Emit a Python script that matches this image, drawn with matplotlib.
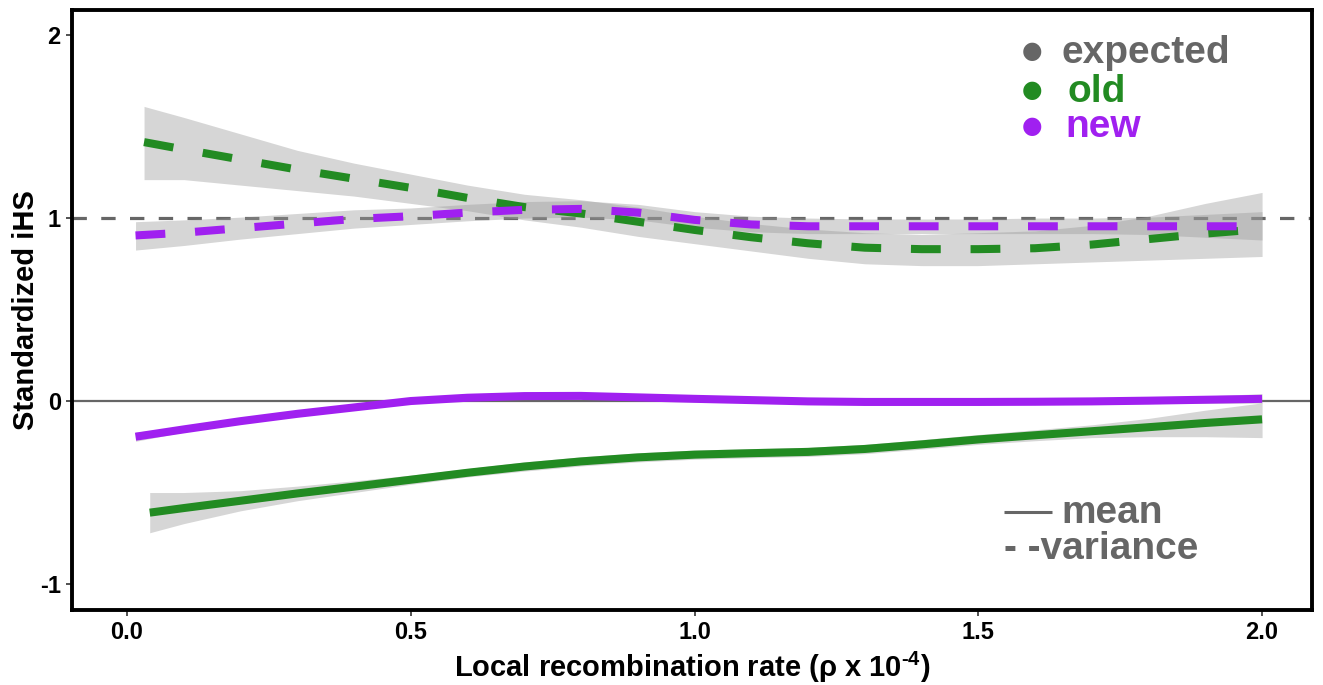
import matplotlib
matplotlib.use("Agg")
import matplotlib.pyplot as plt

plt.rcParams['font.family'] = ['Liberation Sans', 'DejaVu Sans']
plt.rcParams['font.weight'] = 'bold'
plt.rcParams['mathtext.fontset'] = 'custom'
plt.rcParams['mathtext.rm'] = 'Liberation Sans:bold'
plt.rcParams['mathtext.bf'] = 'Liberation Sans:bold'
plt.rcParams['mathtext.default'] = 'bf'

# variance, old (green dashed)
x_var_old = [0.03, 0.1, 0.2, 0.3, 0.4, 0.5, 0.6, 0.7, 0.8, 0.9, 1.0,
             1.1, 1.2, 1.3, 1.4, 1.5, 1.6, 1.7, 1.8, 1.9, 2.0]
var_old = [1.415, 1.375, 1.32, 1.265, 1.215, 1.165, 1.11, 1.06, 1.025, 0.98, 0.935,
           0.895, 0.862, 0.838, 0.83, 0.83, 0.835, 0.855, 0.885, 0.915, 0.94]
var_old_lo = [1.21, 1.21, 1.18, 1.15, 1.12, 1.08, 1.04, 0.99, 0.95, 0.90, 0.86,
              0.82, 0.78, 0.75, 0.74, 0.74, 0.75, 0.76, 0.77, 0.78, 0.79]
var_old_hi = [1.61, 1.55, 1.46, 1.37, 1.30, 1.24, 1.18, 1.13, 1.10, 1.06, 1.01,
              0.97, 0.94, 0.92, 0.91, 0.92, 0.93, 0.96, 1.01, 1.08, 1.14]

# variance, new (purple dashed)
x_var_new = [0.015, 0.1, 0.2, 0.3, 0.4, 0.5, 0.6, 0.7, 0.8, 0.9, 1.0,
             1.1, 1.2, 1.3, 1.4, 1.5, 1.6, 1.7, 1.8, 1.9, 2.0]
var_new = [0.905, 0.92, 0.945, 0.97, 0.995, 1.01, 1.03, 1.045, 1.05, 1.03, 0.99,
           0.965, 0.955, 0.955, 0.955, 0.955, 0.955, 0.955, 0.955, 0.955, 0.955]
var_new_lo = [0.825, 0.85, 0.885, 0.915, 0.945, 0.965, 0.985, 1.0, 1.005, 0.99, 0.95,
              0.925, 0.915, 0.915, 0.915, 0.915, 0.915, 0.915, 0.91, 0.895, 0.88]
var_new_hi = [0.98, 0.99, 1.005, 1.025, 1.045, 1.055, 1.075, 1.09, 1.095, 1.075, 1.035,
              1.01, 1.0, 0.995, 0.995, 0.995, 1.0, 1.0, 1.005, 1.02, 1.035]

# mean, new (purple solid)
x_mean_new = [0.015, 0.1, 0.2, 0.3, 0.4, 0.5, 0.6, 0.7, 0.8, 0.9, 1.0,
              1.1, 1.2, 1.3, 1.4, 1.5, 1.6, 1.7, 1.8, 1.9, 2.0]
mean_new = [-0.195, -0.155, -0.11, -0.07, -0.035, 0.0, 0.018, 0.027, 0.028, 0.02, 0.012,
            0.005, -0.002, -0.005, -0.005, -0.005, -0.004, -0.002, 0.002, 0.007, 0.012]
mean_new_lo = [-0.22, -0.17, -0.122, -0.08, -0.045, -0.01, 0.008, 0.017, 0.018, 0.01, 0.002,
               -0.005, -0.012, -0.015, -0.015, -0.016, -0.016, -0.016, -0.014, -0.012, -0.012]
mean_new_hi = [-0.17, -0.14, -0.098, -0.06, -0.025, 0.01, 0.028, 0.037, 0.038, 0.03, 0.022,
               0.015, 0.008, 0.005, 0.005, 0.006, 0.008, 0.012, 0.018, 0.028, 0.04]

# mean, old (green solid)
x_mean_old = [0.04, 0.1, 0.2, 0.3, 0.4, 0.5, 0.6, 0.7, 0.8, 0.9, 1.0,
              1.1, 1.2, 1.3, 1.4, 1.5, 1.6, 1.7, 1.8, 1.9, 2.0]
mean_old = [-0.61, -0.585, -0.545, -0.505, -0.468, -0.43, -0.392, -0.358, -0.33, -0.308, -0.293,
            -0.285, -0.278, -0.262, -0.237, -0.21, -0.187, -0.165, -0.143, -0.12, -0.10]
mean_old_lo = [-0.72, -0.67, -0.60, -0.545, -0.50, -0.455, -0.415, -0.383, -0.355, -0.333, -0.318,
               -0.31, -0.303, -0.288, -0.263, -0.237, -0.217, -0.20, -0.195, -0.195, -0.20]
mean_old_hi = [-0.50, -0.50, -0.49, -0.465, -0.436, -0.405, -0.369, -0.333, -0.305, -0.283, -0.268,
               -0.26, -0.253, -0.237, -0.211, -0.183, -0.157, -0.13, -0.095, -0.05, -0.01]

expected_var = 1.0
expected_mean = 0.0

x_ticks = [0.0, 0.5, 1.0, 1.5, 2.0]
x_tick_labels = ["0.0", "0.5", "1.0", "1.5", "2.0"]
y_ticks = [-1, 0, 1, 2]
y_tick_labels = ["-1", "0", "1", "2"]

GREEN = '#228B22'
PURPLE = '#A020F0'
GREY = '#666666'
RIBBON = '#999999'

fig = plt.figure(figsize=(13.23, 6.85), dpi=100)
ax = fig.add_axes([0.0544, 0.1095, 0.9373, 0.8759])

ax.axhline(expected_mean, color=GREY, lw=1.6, zorder=1)
ax.axhline(expected_var, color=GREY, lw=2.3, ls=(0, (4.5, 4.5)), zorder=1)

for xs, lo, hi in [(x_var_old, var_old_lo, var_old_hi),
                   (x_var_new, var_new_lo, var_new_hi),
                   (x_mean_new, mean_new_lo, mean_new_hi),
                   (x_mean_old, mean_old_lo, mean_old_hi)]:
    ax.fill_between(xs, lo, hi, color=RIBBON, alpha=0.4, lw=0, zorder=2)

dash = (0, (3.7, 3.7))
ax.plot(x_var_old, var_old, color=GREEN, lw=5.8, ls=dash, zorder=3)
ax.plot(x_var_new, var_new, color=PURPLE, lw=5.8, ls=dash, zorder=3)
ax.plot(x_mean_new, mean_new, color=PURPLE, lw=5.8, solid_capstyle='butt', zorder=3)
ax.plot(x_mean_old, mean_old, color=GREEN, lw=5.8, solid_capstyle='butt', zorder=3)

ax.set_xlim(-0.097, 2.088)
ax.set_ylim(-1.142, 2.137)
ax.set_xticks(x_ticks)
ax.set_xticklabels(x_tick_labels)
ax.set_yticks(y_ticks)
ax.set_yticklabels(y_tick_labels)
ax.tick_params(direction='out', length=4, width=1.2, color='#333333',
               labelsize=17, pad=4)
for lbl in ax.get_xticklabels() + ax.get_yticklabels():
    lbl.set_fontweight('bold')
for sp in ax.spines.values():
    sp.set_linewidth(2.8)
    sp.set_color('black')

ax.set_xlabel(r"Local recombination rate (ρ x 10$^{\text{-4}}$)", fontsize=21,
              fontweight='bold', labelpad=4)
ax.set_ylabel("Standardized iHS", fontsize=21, fontweight='bold', labelpad=0)

# colour key
for name, col, yb, yd, xt in [("expected", GREY, 0.912, 0.931, 0.798),
                              ("old", GREEN, 0.847, 0.866, 0.803),
                              ("new", PURPLE, 0.788, 0.806, 0.801)]:
    ax.text(0.774, yd, "●", color=col, fontsize=17, ha='center', va='center',
            family='DejaVu Sans', transform=ax.transAxes)
    ax.text(xt, yb, name, color=col, fontsize=28, fontweight='bold',
            va='baseline', ha='left', transform=ax.transAxes)

# line-type key
ax.plot([0.752, 0.790], [0.163, 0.163], color=GREY, lw=2.2,
        transform=ax.transAxes, solid_capstyle='butt')
ax.text(0.798, 0.145, "mean", color=GREY, fontsize=28, fontweight='bold',
        va='baseline', ha='left', transform=ax.transAxes)
ax.text(0.752, 0.085, "- -variance", color=GREY, fontsize=28, fontweight='bold',
        va='baseline', ha='left', transform=ax.transAxes)

fig.savefig("out.png", dpi=100)
